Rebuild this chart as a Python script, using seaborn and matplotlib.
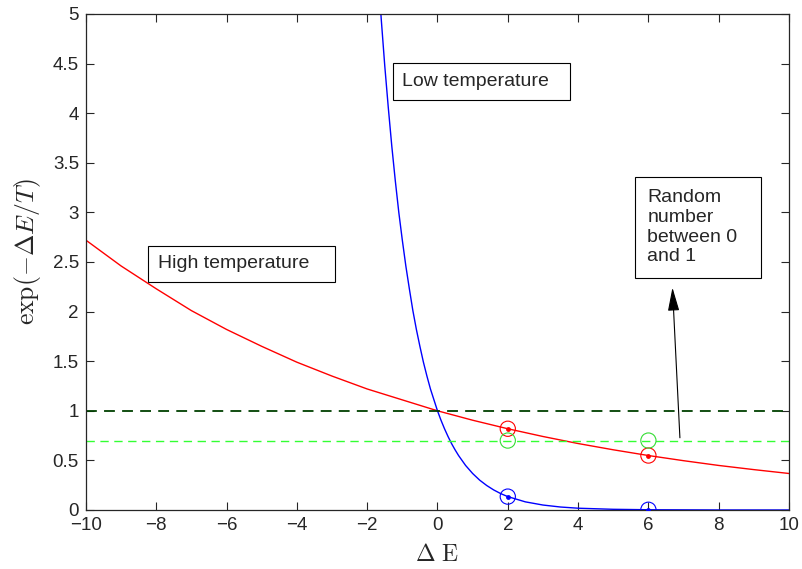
import numpy as np
import pandas as pd
import seaborn as sns
import matplotlib.pyplot as plt

# curve values
red_x = list(range(-10, 11))
red_y = [2.72, 2.46, 2.23, 2.01, 1.82, 1.65, 1.49, 1.35, 1.22, 1.11, 1.00,
         0.905, 0.819, 0.741, 0.670, 0.607, 0.549, 0.497, 0.449, 0.407, 0.368]

blue_x = [-1.7, -1.6, -1.5, -1.4, -1.3, -1.2, -1.1, -1.0, -0.9, -0.8, -0.7, -0.6,
          -0.5, -0.4, -0.3, -0.2, -0.1, 0.0, 0.1, 0.2, 0.3, 0.4, 0.5, 0.6, 0.8,
          1.0, 1.2, 1.4, 1.6, 1.8, 2.0, 2.5, 3.0, 3.5, 4.0, 5.0, 6.0, 8.0, 10.0]
blue_y = [5.47, 4.95, 4.48, 4.06, 3.67, 3.32, 3.00, 2.72, 2.46, 2.23, 2.01, 1.82,
          1.65, 1.49, 1.35, 1.22, 1.11, 1.00, 0.905, 0.819, 0.741, 0.670, 0.607, 0.549, 0.449,
          0.368, 0.301, 0.247, 0.202, 0.165, 0.135, 0.082, 0.050, 0.030, 0.018, 0.007, 0.0025, 0.0003, 0.00005]

# sampled points
pt_x = [2, 6]
pt_red = [0.819, 0.549]
pt_blue = [0.135, 0.0025]
rand_val = [0.70, 0.70]
ref_level = 1.0

sns.set_style("ticks")
plt.rcParams['font.family'] = ['Liberation Sans', 'DejaVu Sans']
plt.rcParams['mathtext.fontset'] = 'cm'

fig = plt.figure(figsize=(8.03, 5.69), dpi=100)
ax = fig.add_axes([0.107, 0.1037, 0.8756, 0.8717])

sns.lineplot(x=red_x, y=red_y, color='red', lw=1.0, sort=False, ax=ax)
sns.lineplot(x=blue_x, y=blue_y, color='blue', lw=1.0, sort=False, ax=ax)

ax.axhline(ref_level, color='#004000', ls=(0, (6, 4)), lw=1.3)
ax.axhline(rand_val[0], color='#33ff33', ls=(0, (6, 4)), lw=1.0)

for ys, c, dot in [(pt_red, 'red', True), (rand_val, '#33dd33', False), (pt_blue, 'blue', True)]:
    ax.scatter(pt_x, ys, s=120, facecolors='none', edgecolors=c, linewidths=0.8, zorder=5)
    if dot:
        ax.scatter(pt_x, ys, s=6, color=c, zorder=6)

box = dict(boxstyle='square,pad=0.5', fc='white', ec='black', lw=0.8)
ax.text(-1.0, 4.32, 'Low temperature  ', fontsize=14, va='center', ha='left', bbox=box)
ax.text(-7.95, 2.48, 'High temperature   ', fontsize=14, va='center', ha='left', bbox=box)
ax.text(5.97, 2.85, 'Random\nnumber\nbetween 0  \nand 1', fontsize=14, va='center', ha='left',
        linespacing=1.2, bbox=dict(boxstyle='square,pad=0.65', fc='white', ec='black', lw=0.8))
ax.annotate('', xy=(6.68, 2.27), xytext=(6.9, 0.7),
            arrowprops=dict(arrowstyle='-|>,head_length=0.9,head_width=0.22',
                            color='black', lw=0.8, mutation_scale=16))

ax.set_xlim(-10, 10)
ax.set_ylim(0, 5)
ax.set_xticks(np.arange(-10, 11, 2))
ax.set_yticks(np.arange(0, 5.01, 0.5))
ax.set_yticklabels(['0', '0.5', '1', '1.5', '2', '2.5', '3', '3.5', '4', '4.5', '5'])
ax.tick_params(direction='in', top=True, right=True, length=6, width=0.8, labelsize=13.5, pad=5)
for s in ax.spines.values():
    s.set_linewidth(0.9)
    s.set_visible(True)

ax.set_xlabel(r'$\Delta\ \mathrm{E}$', fontsize=17, labelpad=7)
ax.set_ylabel(r'$\exp(-\Delta E/T)$', fontsize=18.5)
ax.yaxis.set_label_coords(-0.061, 0.522)

fig.savefig('out.png', dpi=100)
